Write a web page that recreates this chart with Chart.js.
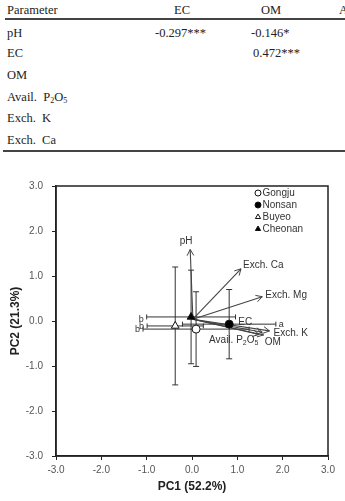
<!DOCTYPE html>
<html>
<head>
<meta charset="utf-8">
<script src="https://cdn.jsdelivr.net/npm/chart.js@4/dist/chart.umd.min.js"></script>
<style>
body { margin: 0; width: 345px; height: 501px; background: #fff; overflow: hidden; position: relative; }
.t { position: absolute; font-family: "Liberation Serif", "Times New Roman", serif; font-size: 12.5px; line-height: 14px; color: #222; white-space: pre; }
.t sub { font-size: 8px; vertical-align: -2px; line-height: 0; }
.rule { position: absolute; background: #444; }
#wrap { position: absolute; left: 0; top: 160px; width: 345px; height: 341px; }
</style>
</head>
<body>
<div id="table"></div>
<div id="wrap"><canvas id="myChart" width="345" height="341"></canvas></div>
<script>
// correlation table (top of figure)
const tableHeader = ['Parameter', 'EC', 'OM', 'A'];
const tableRowNames = ['pH', 'EC', 'OM', 'Avail.  P<sub>2</sub>O<sub>5</sub>', 'Exch.  K', 'Exch.  Ca'];
const tableCells = [
    ['-0.297***', '-0.146*'],
    ['', '0.472***'],
    [], [], [], []
];

// PCA scores per site (mean +- sd)
const sites = ['Gongju', 'Nonsan', 'Buyeo', 'Cheonan'];
const pc1 = [0.09, 0.82, -0.37, -0.02];
const pc2 = [-0.18, -0.07, -0.11, 0.09];
const pc1Err = [1.17, 1.03, 0.62, 0.98];
const pc2Err = [0.83, 0.77, 1.31, 1.04];
const letters = ['b', 'a', 'b', 'b'];

// loadings (arrows)
const variables = ['pH', 'Exch. Ca', 'Exch. Mg', 'Exch. K', 'OM', 'EC', 'Avail. P2O5'];
const loadPC1 = [-0.04, 1.08, 1.55, 1.71, 1.58, 1.55, 1.48];
const loadPC2 = [1.59, 1.16, 0.54, -0.22, -0.31, -0.25, -0.30];
const arrowStart = [0.02, 0.04];

const axisTicks = [-3, -2, -1, 0, 1, 2, 3];

// ---- table layout ----
const tbl = document.getElementById('table');
function put(html, left, top, center) {
    const d = document.createElement('div');
    d.className = 't';
    d.innerHTML = html;
    d.style.top = top + 'px';
    if (center) { d.style.left = (left - 40) + 'px'; d.style.width = '80px'; d.style.textAlign = 'center'; }
    else d.style.left = left + 'px';
    tbl.appendChild(d);
}
put(tableHeader[0], 7, 3);
put(tableHeader[1], 182, 3, true);
put(tableHeader[2], 271, 3, true);
put(tableHeader[3], 339, 3);
const rowY = [26, 46, 68, 90, 111, 133];
const cellX = [[155, 251], [155, 253]];
tableRowNames.forEach((n, r) => {
    put(n, 7, rowY[r]);
    tableCells[r].forEach((c, k) => { if (c) put(c, cellX[r][k], rowY[r]); });
});
[[5, 18, 340, 2], [3, 150, 342, 1.5]].forEach(([l, t, w, h]) => {
    const d = document.createElement('div');
    d.className = 'rule';
    Object.assign(d.style, {left: l + 'px', top: t + 'px', width: w + 'px', height: h + 'px'});
    tbl.appendChild(d);
});

// ---- styles ----
const siteStyle = [
    {pointStyle: 'circle', fill: '#ffffff', radius: 4},
    {pointStyle: 'circle', fill: '#000000', radius: 4},
    {pointStyle: 'triangle', fill: '#ffffff', radius: 4.5},
    {pointStyle: 'triangle', fill: '#000000', radius: 4.5}
];
const letterSide = ['left', 'right', 'left', 'left'];
const letterDy = [0, 0, 1, 3];
// label offsets from arrow tip: dx, dy, align
const varLabel = [
    [-4, -8, 'center'], [2, -4, 'left'], [3, -1, 'left'], [4, 2, 'left'],
    [1, 7, 'left'], [-24, -10, 'left'], [-50, 6, 'left']
];
const FONT = '"Liberation Sans", Arial, sans-serif';

const datasets = [];
sites.forEach((s, i) => {
    datasets.push({
        label: s, kind: 'site', order: 1,
        data: [{x: pc1[i], y: pc2[i]}],
        pointStyle: siteStyle[i].pointStyle, pointRadius: siteStyle[i].radius,
        backgroundColor: siteStyle[i].fill, borderColor: '#111', borderWidth: 1
    });
});
sites.forEach((s, i) => {
    datasets.push({
        label: s + ' sd1', kind: 'err', order: 3, showLine: true,
        data: [{x: pc1[i] - pc1Err[i], y: pc2[i]}, {x: pc1[i] + pc1Err[i], y: pc2[i]}],
        borderColor: '#333', borderWidth: 1,
        pointStyle: 'line', pointRadius: 2.5, pointRotation: 90, pointBorderColor: '#333', pointBorderWidth: 1
    });
    datasets.push({
        label: s + ' sd2', kind: 'err', order: 3, showLine: true,
        data: [{x: pc1[i], y: pc2[i] - pc2Err[i]}, {x: pc1[i], y: pc2[i] + pc2Err[i]}],
        borderColor: '#333', borderWidth: 1,
        pointStyle: 'line', pointRadius: 3, pointRotation: 0, pointBorderColor: '#333', pointBorderWidth: 1
    });
});
variables.forEach((v, i) => {
    datasets.push({
        label: v, kind: 'arrow', idx: i, order: 2, showLine: true,
        data: [{x: arrowStart[0], y: arrowStart[1]}, {x: loadPC1[i], y: loadPC2[i]}],
        borderColor: '#444', borderWidth: 1.1, pointRadius: 0
    });
});

function drawMarker(ctx, style, x, y, r, fill) {
    ctx.beginPath();
    if (style === 'circle') ctx.arc(x, y, r, 0, Math.PI * 2);
    else {
        ctx.moveTo(x, y - r);
        ctx.lineTo(x + r * 0.87, y + r * 0.5);
        ctx.lineTo(x - r * 0.87, y + r * 0.5);
        ctx.closePath();
    }
    ctx.fillStyle = fill;
    ctx.fill();
    ctx.strokeStyle = '#111';
    ctx.lineWidth = 1;
    ctx.stroke();
}

const extras = {
    id: 'extras',
    afterDatasetsDraw(chart) {
        const {ctx, chartArea: a, scales: {x, y}} = chart;
        ctx.save();
        // arrowheads and variable names
        chart.data.datasets.forEach((ds, i) => {
            if (ds.kind !== 'arrow') return;
            const pts = chart.getDatasetMeta(i).data;
            const p0 = pts[0], p1 = pts[1];
            const ang = Math.atan2(p1.y - p0.y, p1.x - p0.x);
            ctx.strokeStyle = '#444';
            ctx.lineWidth = 1;
            ctx.beginPath();
            ctx.moveTo(p1.x - 7 * Math.cos(ang - 0.5), p1.y - 7 * Math.sin(ang - 0.5));
            ctx.lineTo(p1.x, p1.y);
            ctx.lineTo(p1.x - 7 * Math.cos(ang + 0.5), p1.y - 7 * Math.sin(ang + 0.5));
            ctx.stroke();
            const [dx, dy, al] = varLabel[ds.idx];
            ctx.fillStyle = '#333';
            ctx.font = '10px ' + FONT;
            ctx.textBaseline = 'middle';
            ctx.textAlign = al;
            const name = variables[ds.idx];
            if (name === 'Avail. P2O5') {
                let tx = p1.x + dx, ty = p1.y + dy;
                ctx.textAlign = 'left';
                const parts = [['Avail. P', 10, 0], ['2', 7, 3], ['O', 10, 0], ['5', 7, 3]];
                parts.forEach(([t, sz, off]) => {
                    ctx.font = sz + 'px ' + FONT;
                    ctx.fillText(t, tx, ty + off);
                    tx += ctx.measureText(t).width;
                });
            } else {
                ctx.fillText(name, p1.x + dx, p1.y + dy);
            }
        });
        // significance letters
        ctx.font = '9px ' + FONT;
        ctx.fillStyle = '#333';
        ctx.textBaseline = 'middle';
        sites.forEach((s, i) => {
            const py = y.getPixelForValue(pc2[i]) + letterDy[i];
            if (letterSide[i] === 'left') {
                ctx.textAlign = 'right';
                ctx.fillText(letters[i], x.getPixelForValue(pc1[i] - pc1Err[i]) - 3, py);
            } else {
                ctx.textAlign = 'left';
                ctx.fillText(letters[i], x.getPixelForValue(pc1[i] + pc1Err[i]) + 3, py);
            }
        });
        // frame
        ctx.strokeStyle = '#222';
        ctx.lineWidth = 1.5;
        ctx.strokeRect(a.left, a.top, a.right - a.left, a.bottom - a.top);
        // legend
        ctx.font = '10px ' + FONT;
        ctx.textAlign = 'left';
        sites.forEach((s, i) => {
            const ly = a.top + 7 + i * 12;
            drawMarker(ctx, siteStyle[i].pointStyle, a.left + 202, ly, 3, siteStyle[i].fill);
            ctx.fillStyle = '#333';
            ctx.fillText(s, a.left + 206.5, ly);
        });
        ctx.restore();
    }
};

const tickFont = {family: FONT, size: 10};
const ctx = document.getElementById('myChart').getContext('2d');
const myChart = new Chart(ctx, {
    type: 'scatter',
    data: {datasets},
    options: {
        responsive: false,
        animation: false,
        devicePixelRatio: 1,
        layout: {padding: {top: 26, right: 17, left: 0, bottom: 0}},
        plugins: {legend: {display: false}, tooltip: {enabled: false}},
        scales: {
            x: {
                min: -3, max: 3,
                afterFit: s => { s.height = 45; },
                afterBuildTicks: s => { s.ticks = axisTicks.map(v => ({value: v})); },
                ticks: {callback: v => v.toFixed(1), font: tickFont, color: '#555', padding: 4, maxRotation: 0},
                grid: {drawOnChartArea: false, drawTicks: true, tickLength: 4, color: '#222'},
                border: {color: '#222', width: 1.5},
                title: {display: true, text: 'PC1 (52.2%)', color: '#222', font: {family: FONT, size: 12, weight: 'bold'}, padding: {top: 0, bottom: 7}}
            },
            y: {
                min: -3, max: 3,
                afterFit: s => { s.width = 56; },
                afterBuildTicks: s => { s.ticks = axisTicks.map(v => ({value: v})); },
                ticks: {callback: v => v.toFixed(1), font: tickFont, color: '#555', padding: 9},
                grid: {drawOnChartArea: false, drawTicks: true, tickLength: 4, color: '#222'},
                border: {color: '#222', width: 1.5},
                title: {display: true, text: 'PC2 (21.3%)', color: '#222', font: {family: FONT, size: 12, weight: 'bold'}, padding: {top: 8, bottom: 0}}
            }
        }
    },
    plugins: [extras]
});
</script>
</body>
</html>
